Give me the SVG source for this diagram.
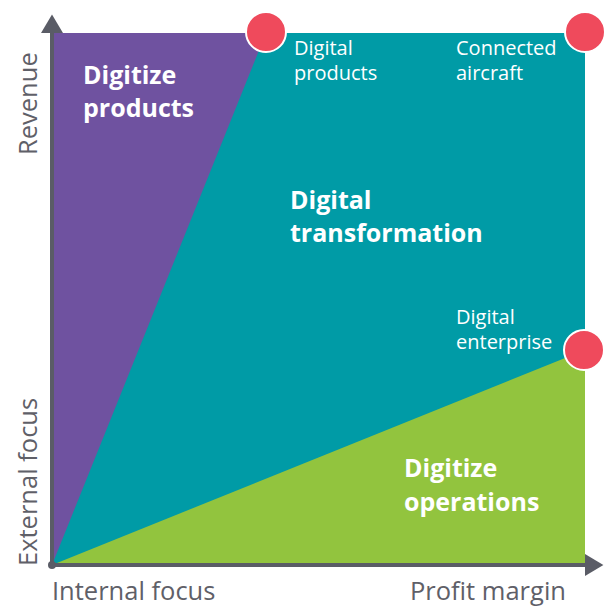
<svg xmlns="http://www.w3.org/2000/svg" width="609" height="606" viewBox="0 0 609 606">
<style>
.lbl{font-family:"Open Sans",Lato,sans-serif;fill:#fff;font-size:20px}
.big{font-family:"Open Sans",Lato,sans-serif;fill:#fff;font-size:25px;font-weight:bold}
.ax{font-family:"Open Sans",Lato,sans-serif;fill:#5f6068;font-size:25.5px}
.dot{fill:#ef4a5c;stroke:#fff;stroke-width:2}
</style>
<defs>
<marker id="ah" markerWidth="6" markerHeight="6" refX="0" refY="2.75" orient="auto" markerUnits="strokeWidth"><path d="M0,0 L4.6,2.75 L0,5.5 Z" fill="#5a5c66"/></marker>
</defs>
<g id="regions">
<rect x="52" y="33" width="533" height="532" fill="#009ba6"/>
<polygon points="52,565 52,33 266,33" fill="#6f52a0"/>
<polygon points="52,565 585,350 585,565" fill="#92c43e"/>
</g>
<g id="connectors">
<line x1="52" y1="565" x2="52" y2="33" stroke="#5a5c66" stroke-width="4" marker-end="url(#ah)"/>
<line x1="52" y1="565" x2="585" y2="565" stroke="#5a5c66" stroke-width="4" marker-end="url(#ah)"/>
<circle cx="52" cy="565" r="4" fill="#5a5c66"/>
</g>
<g id="node-digitize-products"><text class="big" x="83" y="84">Digitize</text><text class="big" x="83" y="117">products</text></g>
<g id="node-digital-transformation"><text class="big" x="290" y="209">Digital</text><text class="big" x="290" y="242">transformation</text></g>
<g id="node-digitize-operations"><text class="big" x="404" y="477">Digitize</text><text class="big" x="404" y="511">operations</text></g>
<g id="node-digital-products"><circle class="dot" cx="266" cy="32" r="20"/><text class="lbl" x="294" y="55">Digital</text><text class="lbl" x="294" y="80">products</text></g>
<g id="node-connected-aircraft"><circle class="dot" cx="585" cy="32" r="20"/><text class="lbl" x="456" y="55">Connected</text><text class="lbl" x="456" y="80">aircraft</text></g>
<g id="node-digital-enterprise"><circle class="dot" cx="584" cy="350" r="20"/><text class="lbl" x="456" y="324">Digital</text><text class="lbl" x="456" y="349">enterprise</text></g>
<g id="axis-labels">
<text class="ax" x="52" y="600">Internal focus</text>
<text class="ax" x="410" y="600">Profit margin</text>
<text class="ax" transform="translate(37,155) rotate(-90)">Revenue</text>
<text class="ax" transform="translate(37,566) rotate(-90)">External focus</text>
</g>
</svg>
